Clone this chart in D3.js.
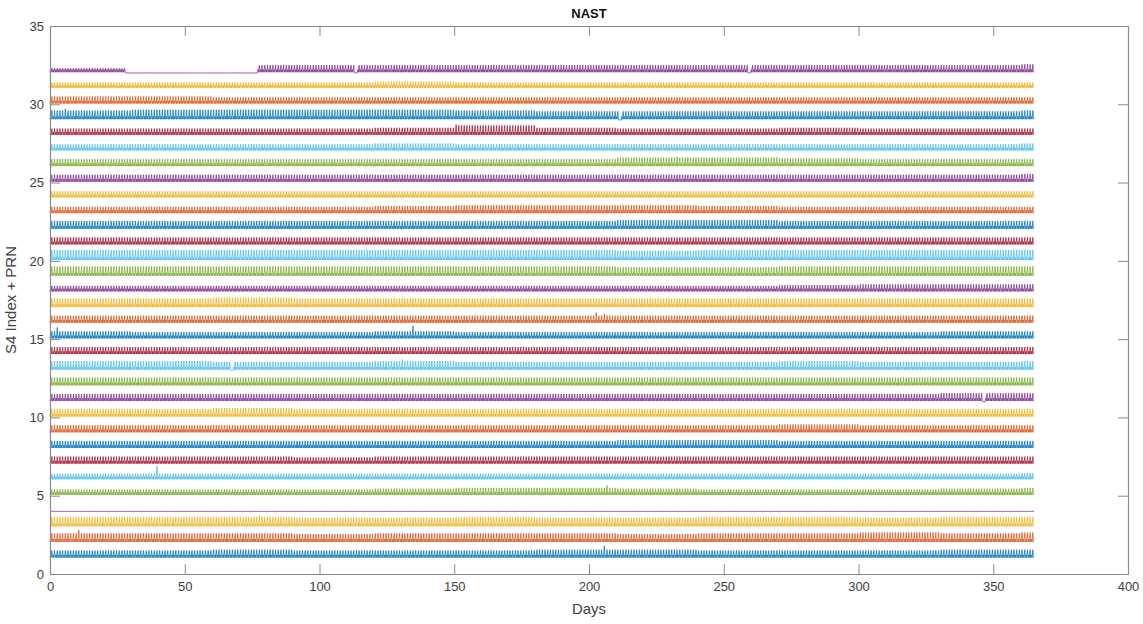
<!DOCTYPE html>
<html>
<head>
<meta charset="utf-8">
<script src="https://cdn.jsdelivr.net/npm/d3@7"></script>
<style>
  body { margin: 0; background: #fff; }
  svg { display: block; font-family: "Liberation Sans", Arial, sans-serif; }
  .tick text { fill: #404040; font-size: 13px; }
  .axis-label { fill: #404040; font-size: 15px; }
</style>
</head>
<body>
<div id="chart"></div>
<script>
// ── Data ───────────────────────────────────────────────────────────
const prns = d3.range(1, 33);
const monthStarts = [0, 30, 60, 90, 120, 150, 180, 210, 240, 270, 300, 330, 360];
const lastDay = 365;
const baseS4 = 0.05;
const bandS4 = 0.22;

// typical daily peak S4 per PRN, one value per 30-day bin
const peakS4 = [
  [0.5, 0.5, 0.55, 0.5, 0.5, 0.5, 0.55, 0.55, 0.5, 0.5, 0.5, 0.55, 0.55],      // 1
  [0.6, 0.6, 0.6, 0.55, 0.6, 0.6, 0.6, 0.55, 0.6, 0.6, 0.65, 0.6, 0.65],       // 2
  [0.65, 0.65, 0.65, 0.6, 0.6, 0.65, 0.6, 0.6, 0.65, 0.65, 0.6, 0.65, 0.65],   // 3
  [0, 0, 0, 0, 0, 0, 0, 0, 0, 0, 0, 0, 0],                                      // 4
  [0.4, 0.4, 0.4, 0.4, 0.45, 0.5, 0.5, 0.45, 0.4, 0.4, 0.4, 0.45, 0.5],        // 5
  [0.4, 0.4, 0.4, 0.4, 0.4, 0.4, 0.4, 0.4, 0.4, 0.4, 0.4, 0.4, 0.45],          // 6
  [0.5, 0.5, 0.5, 0.45, 0.5, 0.5, 0.5, 0.5, 0.5, 0.5, 0.5, 0.5, 0.5],          // 7
  [0.5, 0.5, 0.5, 0.5, 0.5, 0.5, 0.5, 0.55, 0.55, 0.5, 0.5, 0.5, 0.5],         // 8
  [0.5, 0.5, 0.5, 0.5, 0.5, 0.5, 0.5, 0.5, 0.5, 0.55, 0.5, 0.5, 0.5],          // 9
  [0.55, 0.55, 0.6, 0.55, 0.55, 0.55, 0.55, 0.55, 0.55, 0.55, 0.55, 0.55, 0.55], // 10
  [0.5, 0.5, 0.5, 0.5, 0.5, 0.5, 0.5, 0.5, 0.5, 0.5, 0.5, 0.55, 0.55],         // 11
  [0.55, 0.55, 0.55, 0.55, 0.55, 0.55, 0.55, 0.55, 0.55, 0.55, 0.55, 0.55, 0.55], // 12
  [0.6, 0.6, 0.55, 0.55, 0.6, 0.55, 0.55, 0.55, 0.55, 0.6, 0.55, 0.55, 0.6],   // 13
  [0.5, 0.5, 0.5, 0.5, 0.5, 0.5, 0.5, 0.5, 0.5, 0.5, 0.5, 0.5, 0.5],           // 14
  [0.5, 0.45, 0.45, 0.45, 0.5, 0.45, 0.45, 0.45, 0.45, 0.45, 0.45, 0.5, 0.5],  // 15
  [0.5, 0.5, 0.5, 0.5, 0.5, 0.5, 0.5, 0.5, 0.5, 0.5, 0.5, 0.5, 0.5],           // 16
  [0.6, 0.6, 0.65, 0.6, 0.6, 0.6, 0.6, 0.6, 0.6, 0.6, 0.6, 0.6, 0.6],          // 17
  [0.4, 0.4, 0.4, 0.4, 0.4, 0.4, 0.4, 0.4, 0.4, 0.45, 0.5, 0.5, 0.5],          // 18
  [0.65, 0.65, 0.65, 0.65, 0.65, 0.65, 0.65, 0.6, 0.6, 0.65, 0.65, 0.65, 0.65], // 19
  [0.7, 0.7, 0.7, 0.7, 0.7, 0.7, 0.7, 0.65, 0.7, 0.7, 0.7, 0.7, 0.7],          // 20
  [0.5, 0.5, 0.5, 0.5, 0.5, 0.5, 0.5, 0.5, 0.5, 0.5, 0.5, 0.5, 0.5],           // 21
  [0.55, 0.55, 0.55, 0.55, 0.55, 0.55, 0.55, 0.6, 0.6, 0.55, 0.55, 0.55, 0.55], // 22
  [0.45, 0.45, 0.45, 0.45, 0.5, 0.55, 0.55, 0.55, 0.5, 0.45, 0.45, 0.45, 0.45], // 23
  [0.45, 0.45, 0.45, 0.45, 0.45, 0.45, 0.45, 0.45, 0.45, 0.45, 0.45, 0.45, 0.45], // 24
  [0.5, 0.5, 0.5, 0.5, 0.5, 0.5, 0.5, 0.5, 0.5, 0.5, 0.5, 0.5, 0.55],          // 25
  [0.5, 0.5, 0.5, 0.5, 0.5, 0.5, 0.5, 0.6, 0.6, 0.55, 0.5, 0.5, 0.5],          // 26
  [0.45, 0.45, 0.45, 0.45, 0.5, 0.45, 0.45, 0.45, 0.45, 0.45, 0.45, 0.45, 0.5], // 27
  [0.45, 0.45, 0.45, 0.45, 0.5, 0.65, 0.5, 0.45, 0.45, 0.5, 0.45, 0.45, 0.45], // 28
  [0.6, 0.65, 0.65, 0.65, 0.65, 0.6, 0.55, 0.55, 0.55, 0.55, 0.55, 0.55, 0.6], // 29
  [0.5, 0.5, 0.45, 0.45, 0.45, 0.45, 0.45, 0.45, 0.45, 0.45, 0.45, 0.45, 0.45], // 30
  [0.4, 0.4, 0.4, 0.4, 0.45, 0.4, 0.4, 0.4, 0.4, 0.4, 0.4, 0.4, 0.4],          // 31
  [0.3, 0.35, 0.5, 0.5, 0.5, 0.5, 0.5, 0.5, 0.5, 0.5, 0.5, 0.5, 0.55]          // 32
];

// isolated tall spikes: [prn, day, S4]
const spikes = [
  [1, 205, 0.8], [2, 10, 0.8], [3, 77, 0.75], [6, 39, 0.9], [5, 206, 0.65],
  [15, 2, 0.75], [15, 134, 0.85], [16, 202, 0.7], [16, 205, 0.6],
  [28, 150, 0.7], [29, 5, 0.7], [26, 232, 0.65], [13, 130, 0.7]
];

// stretches with no data, drawn flat at S4 = 0: [prn, from, to]
const gaps = [
  [4, 0, 365], [32, 28, 77], [32, 113, 114], [32, 259, 260],
  [13, 67, 68], [11, 346, 347], [29, 211, 212]
];

const colors = ["#0072BD", "#D95319", "#EDB120", "#7E2F8E", "#77AC30", "#4DBEEE", "#A2142F"];
const xTicks = d3.range(0, 401, 50);
const yTicks = d3.range(0, 36, 5);

// ── Layout ────────────────────────────────────────────────────────
const width = 1143;
const height = 624;
const margin = { top: 26, right: 15, bottom: 50, left: 50 };
const innerWidth = width - margin.left - margin.right;
const innerHeight = height - margin.top - margin.bottom;

const svg = d3.select("#chart")
  .append("svg")
  .attr("width", width)
  .attr("height", height);

const xScale = d3.scaleLinear().domain([0, 400]).range([0, innerWidth]);
const yScale = d3.scaleLinear().domain([0, 35]).range([innerHeight, 0]);

const inner = svg.append("g")
  .attr("transform", `translate(${margin.left},${margin.top})`);

// ── Build each trace: per day a low band spike and a peak spike ───
const peakFor = (p, d) => {
  const bin = d3.bisectRight(monthStarts, d) - 1;
  const hit = spikes.find(s => s[0] === p && s[1] === d);
  return hit ? hit[2] : peakS4[p - 1][bin];
};
const inGap = (p, d) => gaps.some(g => g[0] === p && d >= g[1] && d < g[2]);

const traces = prns.map(p => {
  const pts = [];
  for (let d = 0; d < lastDay; d++) {
    if (inGap(p, d)) {
      pts.push([d, p], [d + 1, p]);
      continue;
    }
    const pk = peakFor(p, d);
    pts.push([d, p + baseS4], [d + 0.2, p + bandS4], [d + 0.4, p + baseS4],
             [d + 0.7, p + pk], [d + 0.9, p + baseS4]);
  }
  pts.push([lastDay, p + baseS4]);
  return { prn: p, pts };
});

const line = d3.line()
  .x(d => xScale(d[0]))
  .y(d => yScale(d[1]));

inner.selectAll("path.trace")
  .data(traces)
  .join("path")
  .attr("class", "trace")
  .attr("d", d => line(d.pts))
  .attr("fill", "none")
  .attr("stroke", d => colors[(d.prn - 1) % colors.length])
  .attr("stroke-width", 0.75);

// ── Axes (box with inward ticks, MATLAB style) ────────────────────
const axisColor = "#8a8a8a";
const tickLen = 10;

const bottomAxis = d3.axisBottom(xScale).tickValues(xTicks).tickSizeInner(-tickLen).tickSizeOuter(0).tickPadding(8);
const topAxis = d3.axisTop(xScale).tickValues(xTicks).tickSizeInner(-tickLen).tickSizeOuter(0);
const leftAxis = d3.axisLeft(yScale).tickValues(yTicks).tickSizeInner(-tickLen).tickSizeOuter(0).tickPadding(6);
const rightAxis = d3.axisRight(yScale).tickValues(yTicks).tickSizeInner(-tickLen).tickSizeOuter(0);

const axes = [
  inner.append("g").attr("transform", `translate(0,${innerHeight})`).call(bottomAxis),
  inner.append("g").attr("class", "mirror").call(topAxis),
  inner.append("g").call(leftAxis),
  inner.append("g").attr("class", "mirror").attr("transform", `translate(${innerWidth},0)`).call(rightAxis)
];
axes.forEach(g => {
  g.select(".domain").attr("stroke", axisColor).attr("stroke-width", 1.2);
  g.selectAll(".tick line").attr("stroke", axisColor);
});
// top and right edges carry ticks only
inner.selectAll(".mirror .tick text").remove();

// ── Labels ────────────────────────────────────────────────────────
svg.append("text")
  .text("NAST")
  .attr("x", margin.left + innerWidth / 2)
  .attr("y", 18)
  .attr("text-anchor", "middle")
  .attr("font-weight", "bold")
  .attr("font-size", 13)
  .attr("fill", "#111");

svg.append("text")
  .text("Days")
  .attr("class", "axis-label")
  .attr("x", margin.left + innerWidth / 2)
  .attr("y", 614)
  .attr("text-anchor", "middle");

svg.append("text")
  .text("S4 Index + PRN")
  .attr("class", "axis-label")
  .attr("transform", `translate(16,${margin.top + innerHeight / 2}) rotate(-90)`)
  .attr("text-anchor", "middle");
</script>
</body>
</html>
